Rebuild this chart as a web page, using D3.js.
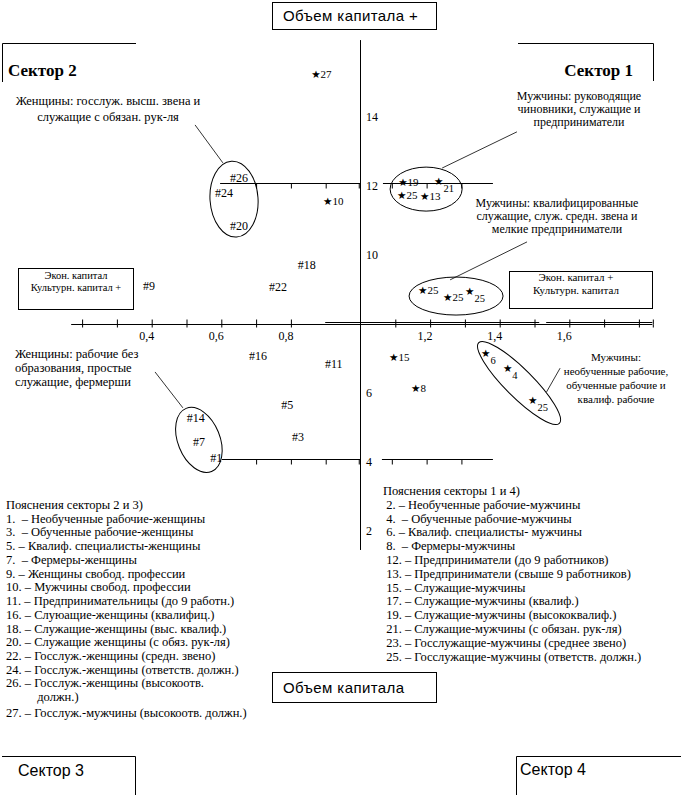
<!DOCTYPE html>
<html>
<head>
<meta charset="utf-8">
<script src="https://cdn.jsdelivr.net/npm/d3@7"></script>
<style>
  body { margin: 0; background: #fff; }
  svg text { font-family: "Liberation Serif", "Times New Roman", serif; fill: #000; }
</style>
</head>
<body>
<script>
 // women (#): id, culturn/econ ratio (x), capital volume (y)
 const womenIds = ["26", "24", "20", "18", "22", "9", "16", "11", "5", "3", "14", "7", "1"];
 const womenX = [0.635, 0.592, 0.635, 0.830, 0.747, 0.385, 0.690, 0.908, 0.782, 0.813, 0.511, 0.529, 0.578];
 const womenY = [12.23, 11.80, 10.84, 9.71, 9.07, 9.10, 7.07, 6.84, 5.65, 4.72, 5.28, 4.58, 4.12];

 // men (star)
 const menIds = ["27", "10", "19", "21", "25", "13", "25", "25", "25", "15", "8", "6", "4", "25"];
 const menX = [0.874, 0.908, 1.124, 1.227, 1.121, 1.187, 1.181, 1.253, 1.316, 1.098, 1.161, 1.362, 1.425, 1.497];
 const menY = [15.25, 11.57, 12.12, 12.14, 11.74, 11.71, 8.99, 8.78, 8.96, 7.04, 6.14, 7.16, 6.72, 5.80];

 // axis ticks and labels
 const xTicks = [0.2, 0.3, 0.4, 0.5, 0.6, 0.7, 0.8, 1.1, 1.2, 1.3, 1.4, 1.5, 1.6, 1.7, 1.8, 1.84];
 const xLabels = [0.4, 0.6, 0.8, 1.2, 1.4, 1.6];
 const yLabels = [14, 12, 10, 6, 4, 2];

 // legend texts
 const legendLeft = [
   "Пояснения секторы 2 и 3)",
   "1.  – Необученные рабочие-женщины",
   "3.  – Обученные рабочие-женщины",
   "5. – Квалиф. специалисты-женщины",
   "7.  – Фермеры-женщины",
   "9. – Женщины свобод. профессии",
   "10. – Мужчины свобод. профессии",
   "11. – Предпринимательницы (до 9 работн.)",
   "16. – Слуюащие-женщины (квалифиц.)",
   "18. – Служащие-женщины (выс. квалиф.)",
   "20. – Служащие женщины (с обяз. рук-ля)",
   "22. – Госслуж.-женщины (средн. звено)",
   "24. – Госслуж.-женщины (ответств. должн.)",
   "26. – Госслуж.-женщины (высокоотв.",
   "          должн.)",
   "27. – Госслуж.-мужчины (высокоотв. должн.)"
 ];
 const legendRight = [
   "Пояснения секторы 1 и 4)",
   " 2. – Необученные рабочие-мужчины",
   " 4.  – Обученные рабочие-мужчины",
   " 6. – Квалиф. специалисты- мужчины",
   " 8.  – Фермеры-мужчины",
   " 12. – Предприниматели (до 9 работников)",
   " 13. – Предприниматели (свыше 9 работников)",
   " 15. – Служащие-мужчины",
   " 17. – Служащие-мужчины (квалиф.)",
   " 19. – Служащие-мужчины (высококвалиф.)",
   " 21. – Служащие-мужчины (с обязан. рук-ля)",
   " 23. – Госслужащие-мужчины (среднее звено)",
   " 25. – Госслужащие-мужчины (ответств. должн.)"
 ];

 // constants
 const width = 681;
 const height = 795;
 const serif = '"Liberation Serif", "Times New Roman", serif';
 const sans = '"Liberation Sans", Arial, sans-serif';

 const svg = d3.select('body').append('svg')
       .attr('width', width).attr('height', height);

 // scales: 1.0 at the vertical axis, 8 at the horizontal axis
 const xScale = d3.scaleLinear().domain([0, 2]).range([12, 708]);
 const yScale = d3.scaleLinear().domain([0, 16]).range([600, 48]);
 const y0 = yScale(8);

 // ---- main horizontal axis ----
 const axisG = svg.append('g').attr('stroke', '#000');
 axisG.append('line')
      .attr('x1', xScale(0.17)).attr('x2', xScale(1.84))
      .attr('y1', y0 + 0.5).attr('y2', y0 + 0.5)
 // doubled part of the line
 axisG.append('line')
      .attr('x1', xScale(0.9)).attr('x2', xScale(1.515))
      .attr('y1', y0 - 1.5).attr('y2', y0 - 1.5)
 axisG.append('line')
      .attr('x1', xScale(1.535)).attr('x2', xScale(1.84))
      .attr('y1', y0 - 1.5).attr('y2', y0 - 1.5)

 svg.append('g').attr('transform', `translate(0.5, ${y0 + 0.5})`)
    .call(d3.axisBottom(xScale).tickValues(xTicks).tickSize(3).tickFormat(''))
    .call(g => g.select('.domain').remove())
 svg.append('g').attr('transform', `translate(0.5, ${y0 + 0.5})`)
    .call(d3.axisTop(xScale).tickValues(xTicks).tickSize(5).tickFormat(''))
    .call(g => g.select('.domain').remove())

 svg.append('g').attr('transform', `translate(-5, ${y0})`)
    .call(d3.axisBottom(xScale).tickValues(xLabels).tickSize(0).tickPadding(7)
          .tickFormat(d => String(d).replace('.', ',')))
    .call(g => g.select('.domain').remove())
    .selectAll('text').style('font-family', serif).style('font-size', '12px')

 // ---- secondary lines at 12 and 4 ----
 const subLine = function(v, a, b, ticks) {
    svg.append('line').attr('stroke', '#000')
       .attr('x1', xScale(a)).attr('x2', xScale(b))
       .attr('y1', Math.round(yScale(v)) - 2.5).attr('y2', Math.round(yScale(v)) - 2.5)
    svg.append('g').attr('transform', `translate(0.5, ${Math.round(yScale(v)) - 2.5})`)
       .call(d3.axisBottom(xScale).tickValues(ticks).tickSize(5).tickFormat(''))
       .call(g => g.select('.domain').remove())
 }
 subLine(12, 0.598, 1.0, [0.7, 0.8, 0.9, 0.995])
 subLine(12, 1.066, 1.382, [1.09, 1.19, 1.29])
 subLine(4, 0.603, 1.0, [0.7, 0.8, 0.9, 0.995])
 subLine(4, 1.063, 1.382, [1.09, 1.19, 1.29])

 // ---- vertical axis ----
 svg.append('line').attr('stroke', '#000')
    .attr('x1', xScale(1) + 0.5).attr('x2', xScale(1) + 0.5)
    .attr('y1', yScale(16.23)).attr('y2', yScale(1.45))
 svg.append('g').attr('transform', `translate(${xScale(1)}, 0)`)
    .call(d3.axisRight(yScale).tickValues(yLabels).tickSize(0).tickPadding(6))
    .call(g => g.select('.domain').remove())
    .selectAll('text').style('font-family', serif).style('font-size', '12px')

 // ---- group ellipses (centres in data units) ----
 const ellipses = [
    { cx: 0.638, cy: 11.62, rx: 24, ry: 38, rot: -4 },
    { cx: 1.190, cy: 11.91, rx: 36, ry: 22, rot: 0 },
    { cx: 1.276, cy: 8.81, rx: 47, ry: 19, rot: 0 },
    { cx: 1.457, cy: 6.29, rx: 57, ry: 14, rot: 45 },
    { cx: 0.537, cy: 4.64, rx: 21, ry: 34, rot: -22 }
 ];
 svg.append('g').selectAll('ellipse').data(ellipses).join('ellipse')
    .attr('transform', d => `translate(${xScale(d.cx)},${yScale(d.cy)}) rotate(${d.rot})`)
    .attr('rx', d => d.rx).attr('ry', d => d.ry)
    .attr('fill', 'none').attr('stroke', '#000')

 // leader lines
 const leaders = [
    [0.526, 13.77, 0.606, 12.67],
    [1.451, 13.57, 1.236, 12.52],
    [1.480, 10.38, 1.259, 9.28],
    [1.575, 6.72, 1.536, 6.03],
    [0.411, 6.61, 0.491, 5.57]
 ];
 svg.append('g').selectAll('line').data(leaders).join('line')
    .attr('x1', d => xScale(d[0])).attr('y1', d => yScale(d[1]))
    .attr('x2', d => xScale(d[2])).attr('y2', d => yScale(d[3]))
    .attr('stroke', '#000').attr('stroke-width', 0.8)

 // ---- points ----
 const women = womenIds.map((id, i) => ({ id, x: womenX[i], y: womenY[i] }))
 svg.append('g').selectAll('text').data(women).join('text')
    .attr('x', d => xScale(d.x) - 3).attr('y', d => yScale(d.y) + 4)
    .style('font-size', '12px')
    .text(d => '#' + d.id)

 const subIdx = [3, 8, 11, 12, 13];
 const men = menIds.map((id, i) => ({ id, x: menX[i], y: menY[i], sub: subIdx.includes(i) }))
 const menText = svg.append('g').selectAll('text').data(men).join('text')
    .attr('x', d => xScale(d.x) - 5).attr('y', d => yScale(d.y) + 4)
 menText.append('tspan').style('font-family', '"DejaVu Sans", sans-serif').style('font-size', '10.5px').text('★')
 menText.append('tspan')
    .attr('dy', d => d.sub ? 7 : 0)
    .style('font-size', d => d.sub ? '10.5px' : '11px')
    .text(d => d.id)

 // ---- annotation texts ----
 const notes = [
    { x: 108, y: [105, 121], size: 12.5, anchor: 'middle', lines: ['Женщины: госслуж. высш. звена и', 'служащие с обязан. рук-ля'] },
    { x: 579, y: [100, 113, 126], size: 12, anchor: 'middle', lines: ['Мужчины: руководящие', 'чиновники, служащие и', 'предприниматели'] },
    { x: 557, y: [207, 220, 233], size: 12, anchor: 'middle', lines: ['Мужчины: квалифицированные', 'служащие, служ. средн. звена и', 'мелкие предприниматели'] },
    { x: 616, y: [361, 375, 389, 403], size: 11, anchor: 'middle', lines: ['Мужчины:', 'необученные рабочие,', 'обученные рабочие и', 'квалиф. рабочие'] },
    { x: 15, y: [358, 372, 386], size: 12.5, anchor: 'start', lines: ['Женщины: рабочие без', 'образования, простые', 'служащие, фермерши'] }
 ];
 notes.forEach(n => {
    svg.append('g').selectAll('text').data(n.lines).join('text')
       .attr('x', n.x).attr('y', (d, i) => n.y[i])
       .attr('text-anchor', n.anchor)
       .style('font-size', n.size + 'px')
       .text(d => d)
 })

 // ---- boxes ----
 const box = (x, y, w, h) => svg.append('rect')
       .attr('x', x + 0.5).attr('y', y + 0.5).attr('width', w).attr('height', h)
       .attr('fill', 'none').attr('stroke', '#000')

 box(272, 2, 164, 27)
 svg.append('text').attr('x', 283).attr('y', 21)
    .style('font-family', sans).style('font-size', '15px').style('letter-spacing', '0.4px')
    .text('Объем капитала +')

 box(272, 672, 164, 30)
 svg.append('text').attr('x', 283).attr('y', 693)
    .style('font-family', sans).style('font-size', '15px').style('letter-spacing', '0.4px')
    .text('Объем капитала')

 box(18, 268, 115, 41)
 svg.append('text').attr('x', 76).attr('y', 279).attr('text-anchor', 'middle')
    .style('font-size', '10.5px').text('Экон. капитал')
 svg.append('text').attr('x', 76).attr('y', 291).attr('text-anchor', 'middle')
    .style('font-size', '10.5px').text('Культурн. капитал +')

 box(509, 271, 143, 37)
 svg.append('text').attr('x', 576).attr('y', 281).attr('text-anchor', 'middle')
    .style('font-size', '11px').text('Экон. капитал +')
 svg.append('text').attr('x', 576).attr('y', 294).attr('text-anchor', 'middle')
    .style('font-size', '11px').text('Культурн. капитал')

 // ---- sector brackets ----
 const path = d => svg.append('path').attr('d', d).attr('fill', 'none').attr('stroke', '#000')
 path('M2.5,82 V43.5 H136')
 path('M518,43.5 H653.5 V81')
 path('M2,756.5 H135.5 V795')
 path('M516.5,795 V756.5 H681')

 svg.append('text').attr('x', 8).attr('y', 76)
    .style('font-size', '17px').style('font-weight', 'bold').text('Сектор 2')
 svg.append('text').attr('x', 633).attr('y', 76).attr('text-anchor', 'end')
    .style('font-size', '17px').style('font-weight', 'bold').text('Сектор 1')
 svg.append('text').attr('x', 18).attr('y', 776)
    .style('font-family', sans).style('font-size', '16px').text('Сектор 3')
 svg.append('text').attr('x', 520).attr('y', 775)
    .style('font-family', sans).style('font-size', '16px').text('Сектор 4')

 // ---- legends ----
 svg.append('g').selectAll('text').data(legendLeft).join('text')
    .attr('x', 6).attr('y', (d, i) => 509 + i * 13.73 + (i == 15 ? 2 : 0))
    .style('font-size', '12.5px').style('white-space', 'pre')
    .text(d => d)

 svg.append('g').selectAll('text').data(legendRight).join('text')
    .attr('x', 383).attr('y', (d, i) => 495 + i * 13.8)
    .style('font-size', '12.5px').style('white-space', 'pre')
    .text(d => d)
</script>
</body>
</html>
